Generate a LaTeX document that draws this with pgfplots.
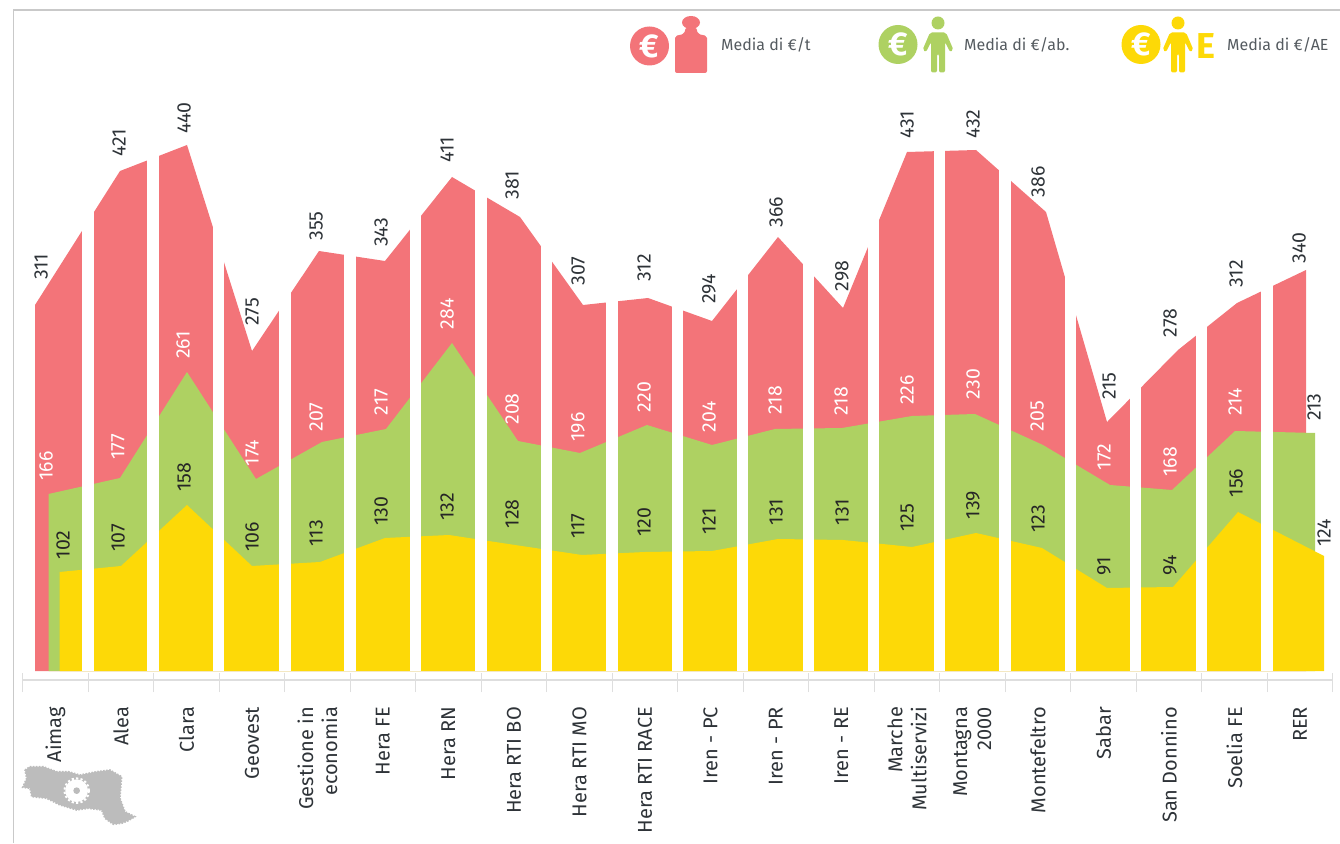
\documentclass[border=0pt]{standalone}
\usepackage{pgfplots}
\usepackage{pgfplotstable}
\usepackage{fontspec}
\pgfplotsset{compat=1.18}
\setmainfont{Fira Sans}
\definecolor{cred}{HTML}{F37479}
\definecolor{cgreen}{HTML}{AED162}
\definecolor{cyellow}{HTML}{FDD907}
\definecolor{cframe}{HTML}{C9C9C9}
\definecolor{ctick}{HTML}{DEDEDE}
\definecolor{cmap}{HTML}{BCBCBC}
\definecolor{ctext}{HTML}{2E3338}
\definecolor{clegend}{HTML}{555B60}
\pgfplotstableread{
x y lab
41 404 311
119 528 421
184 553 440
252 359 275
316 445 355
381 439 343
447 521 411
512 486 381
578 400 307
644 403 312
709 382 294
776 459 366
842 395 298
907 546 431
973 547 432
1038 489 386
1109 285 215
1170 348 278
1236 397 312
1299 423 340
1314 264 213
1324 138 124
}\toplabels
\pgfplotstableread{
x y lab
46 205 166
118 224 177
183 326 261
252 218 174
316 254 207
381 269 217
447 357 284
512 262 208
578 244 196
644 274 220
709 254 204
775 271 218
841 270 218
907 281 226
973 287 230
1037 255 205
1104 214 172
1170 209 168
1235 269 214
}\midlabels
\pgfplotstableread{
x y lab
63 126 102
118 133 107
184 194 158
252 134 106
316 138 113
381 160 130
447 164 132
512 157 128
578 145 117
644 149 120
709 150 121
776 159 131
842 159 131
907 153 125
973 166 139
1038 152 123
1104 105 91
1170 106 94
1236 188 156
}\lowlabels
\newcommand{\person}[2]{%
  \begin{scope}[shift={(#1,0)}]
    \fill[#2] (0,23) circle (6.5);
    \fill[#2,rounded corners=2pt] (-8,32.5) -- (8,32.5) -- (15.5,50) -- (12,52) -- (7,42) -- (7,72.5) -- (1,72.5) -- (1,54) -- (-1,54) -- (-1,72.5) -- (-7,72.5) -- (-7,42) -- (-12,52) -- (-15.5,50) -- cycle;
  \end{scope}}
\begin{document}
\begin{tikzpicture}[x=1pt,y=1pt]
\path[use as bounding box] (0,0) rectangle (1340,843);
\begin{axis}[
  at={(22.7pt,163pt)}, anchor=south west, scale only axis, clip=false,
  width=1310pt, height=670pt,
  xmin=22.7, xmax=1332.7, ymin=-9, ymax=661,
  axis x line=bottom, axis y line=none,
  axis line style={-, draw=ctick, line width=1.2pt},
  xtick={22.7,88.2,153.7,219.2,284.7,350.2,415.7,481.2,546.7,612.2,677.7,743.2,808.7,874.2,939.7,1005.2,1070.7,1136.2,1201.7,1267.2,1332.7},
  x tick label as interval,
  xticklabels={Aimag,Alea,Clara,Geovest,{Gestione in\\economia},Hera FE,Hera RN,Hera RTI BO,Hera RTI MO,Hera RTI RACE,Iren - PC,Iren - PR,Iren - RE,{Marche\\Multiservizi},{Montagna\\2000},Montefeltro,Sabar,San Donnino,Soelia FE,RER},
  x tick label style={rotate=90, anchor=east, align=right, xshift=-14pt, font=\fontsize{20}{24}\selectfont, text=ctext},
  tick align=center, major tick length=19pt,
  xtick style={draw=ctick, line width=1.2pt, yshift=-2.5pt},
]
\addplot[fill=cred, draw=none] coordinates {(35,0)(35,366)(120,500)(187,526)(252,320)(319,420)(385,410)(452,494)(520,454)(583,366)(648,373)(712,350)(778,434)(843,363)(907,519)(976,521)(1046,459)(1107,249)(1178,321)(1237,368)(1306,401)(1306,0)} --cycle;
\addplot[fill=cgreen, draw=none] coordinates {(48.5,0)(48.5,177)(120,193)(187,299)(256,192)(322,229)(386,242)(452,328)(518,230)(580,218)(647,246)(712,226)(775,242)(842,243)(912,255)(975,257)(1043,226)(1110,186)(1172,181)(1235,240)(1315,238)(1315,0)} --cycle;
\addplot[fill=cyellow, draw=none] coordinates {(59.5,0)(59.5,99)(121,105)(187,166)(252,105)(320,109)(385,133)(449,136)(515,126)(582,116)(645,119)(712,120)(778,132)(843,131)(912,124)(976,138)(1042,123)(1107,83)(1173,84)(1238,159)(1324,115)(1324,0)} --cycle;
\addplot[ycomb, white, line width=11.5pt, mark=none] coordinates {(88,600)(153,600)(218.5,600)(285,600)(350,600)(415.5,600)(481,600)(546.5,600)(612,600)(677.5,600)(742.5,600)(808.5,600)(873.5,600)(939.5,600)(1005,600)(1070.5,600)(1135.5,600)(1201.5,600)(1267,600)};
\pgfplotsset{lab/.style={only marks, mark=none, point meta=explicit symbolic, nodes near coords, nodes near coords style={anchor=center, rotate=90, inner sep=0pt, font=\fontsize{19.5}{22}\selectfont, text=#1}}}
\addplot[lab=ctext] table[x=x,y=y,meta=lab] {\toplabels};
\addplot[lab=white] table[x=x,y=y,meta=lab] {\midlabels};
\addplot[lab=black!85] table[x=x,y=y,meta=lab] {\lowlabels};
\end{axis}
\begin{scope}[shift={(0,843)},x=1pt,y=-1pt]
  \draw[cframe,line width=1.5pt] (13.5,843) -- (13.5,10) -- (1340,10);
  % legend: weight
  \fill[cred] (649.5,46) circle (19.5);
  \node[white,font=\fontsize{33}{33}\selectfont\bfseries] at (649.5,46) {€};
  \fill[cred,rounded corners=2pt] (675,36) -- (684,34) -- (686,27) -- (696,27) -- (698,34) -- (707,36) -- (707,73) -- (675,73) -- cycle;
  \fill[cred] (691,22.5) ellipse (9 and 6.5);
  \node[anchor=west,clegend,inner sep=0pt,font=\fontsize{16}{16}\selectfont] at (721,45) {Media di €/t};
  % legend: inhabitant
  \fill[cgreen] (898,44.5) circle (19.5);
  \node[white,font=\fontsize{33}{33}\selectfont\bfseries] at (898,44.5) {€};
  \person{938}{cgreen}
  \node[anchor=west,clegend,inner sep=0pt,font=\fontsize{16}{16}\selectfont] at (964,45) {Media di €/ab.};
  % legend: equivalent inhabitant
  \fill[cyellow] (1141,44.5) circle (19.5);
  \node[white,font=\fontsize{33}{33}\selectfont\bfseries] at (1141,44.5) {€};
  \person{1178}{cyellow}
  \node[cyellow,font=\fontsize{36}{36}\selectfont\bfseries] at (1206,46) {E};
  \node[anchor=west,clegend,inner sep=0pt,font=\fontsize{16}{16}\selectfont] at (1227,45) {Media di €/AE};
\end{scope}
% region map
\begin{scope}[shift={(10,88)},x=0.3333pt,y=-0.3333pt]
  \filldraw[cmap,line width=1.6pt,dash pattern=on 1.5pt off 1.5pt] (45,45) -- (60,35) -- (100,35) -- (140,50) -- (175,50) -- (210,60) -- (260,50) -- (300,45) -- (335,65) -- (330,130) -- (345,170) -- (375,185) -- (355,197) -- (335,205) -- (310,208) -- (285,190) -- (275,165) -- (235,160) -- (200,165) -- (150,150) -- (110,130) -- (65,125) -- (60,100) -- (38,97) -- (50,70) -- cycle;
  \fill[white] (200,107) circle (34);
  \draw[white,line width=2pt,dash pattern=on 2.2pt off 2.2pt] (200,107) circle (37);
  \fill[cmap] (200,107) circle (10);
\end{scope}
\end{tikzpicture}
\end{document}
